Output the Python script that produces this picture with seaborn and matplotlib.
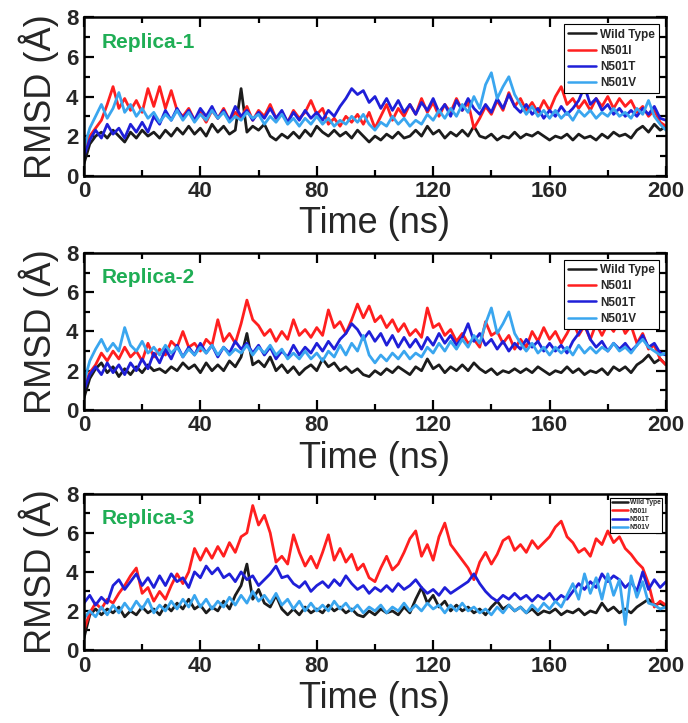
import numpy as np
import pandas as pd
import matplotlib
matplotlib.use('Agg')
import matplotlib.pyplot as plt
import seaborn as sns
from matplotlib.ticker import MultipleLocator

# time axis (ns), sampled every 2 ns
time_ns = list(range(0, 201, 2))
systems = ['Wild Type', 'N501I', 'N501T', 'N501V']
colors = {'Wild Type': '#1c1c1c', 'N501I': '#ff1f1f', 'N501T': '#1f1fd8', 'N501V': '#3aa6ef'}

# Replica-1
r1_wt = [0.6, 1.6, 2.0, 2.2, 1.9, 2.3, 2.0, 1.7, 2.2, 1.9, 2.3, 2.0, 2.2, 1.9, 2.3, 2.0, 2.4, 2.1, 2.5, 2.1,
         2.4, 2.0, 2.6, 2.2, 2.5, 2.1, 2.3, 4.4, 2.2, 2.5, 2.3, 2.6, 2.0, 1.8, 2.1, 1.9, 2.2, 1.9, 2.3, 2.0,
         2.5, 2.2, 2.0, 2.3, 2.0, 2.2, 1.9, 2.3, 2.0, 1.7, 2.0, 1.8, 2.1, 1.9, 2.2, 1.9, 2.0, 2.3, 2.0, 2.5,
         2.1, 2.3, 1.9, 2.2, 2.0, 2.3, 2.0, 2.5, 2.0, 1.9, 2.1, 1.8, 2.0, 1.9, 2.2, 1.9, 2.1, 2.0, 2.2, 2.0,
         1.8, 2.0, 1.9, 2.1, 1.8, 2.1, 1.9, 2.0, 1.8, 2.1, 1.9, 2.2, 2.0, 2.1, 1.9, 2.3, 2.5, 2.2, 2.6, 2.3,
         2.5]
r1_n501i = [1.2, 2.0, 2.4, 2.8, 3.6, 4.5, 3.4, 3.9, 3.3, 3.8, 3.2, 4.4, 3.5, 4.5, 3.4, 4.3, 3.3, 3.0, 3.4, 2.8,
            3.2, 2.7, 3.3, 2.9, 3.4, 2.8, 3.2, 2.9, 3.5, 2.8, 3.3, 3.0, 3.6, 2.9, 3.2, 2.7, 3.3, 2.9, 3.2, 3.8,
            3.1, 3.4, 2.6, 2.9, 2.5, 3.0, 2.7, 3.1, 2.6, 3.2, 2.4, 3.0, 3.6, 2.8, 3.4, 3.0, 3.6, 3.1, 3.9, 3.2,
            3.7, 3.0, 3.6, 3.2, 3.9, 3.3, 3.7, 2.4, 2.9, 3.5, 3.1, 3.8, 3.3, 4.2, 3.5, 3.9, 3.3, 3.7, 3.2, 3.8,
            3.3, 4.0, 4.5, 3.6, 3.9, 3.4, 3.8, 3.3, 3.9, 3.5, 4.0, 3.4, 3.9, 3.5, 3.8, 3.2, 3.5, 3.0, 3.3, 2.7,
            2.5]
r1_n501t = [1.0, 1.8, 2.3, 1.9, 2.6, 2.1, 2.4, 1.9, 2.6, 2.2, 2.7, 2.2, 3.0, 2.6, 3.3, 2.8, 3.4, 2.9, 3.3, 2.8,
            3.4, 3.0, 3.5, 2.9, 3.3, 2.8, 3.5, 3.0, 3.3, 2.8, 3.2, 2.9, 3.4, 2.9, 3.3, 2.7, 3.2, 2.8, 3.3, 2.9,
            3.2, 2.8, 3.3, 3.0, 3.5, 3.9, 4.4, 4.1, 4.3, 3.7, 4.0, 3.4, 3.9, 3.3, 3.8, 3.2, 3.6, 3.1, 3.7, 3.3,
            3.9, 3.2, 3.6, 3.0, 3.8, 3.3, 3.9, 3.4, 3.1, 3.6, 3.2, 3.9, 3.4, 4.1, 3.5, 3.2, 3.6, 3.1, 3.4, 2.9,
            3.3, 3.0, 3.5, 3.1, 3.4, 3.8, 4.5, 3.6, 3.9, 3.3, 3.6, 3.1, 3.4, 3.0, 3.3, 3.0, 3.4, 3.1, 3.5, 2.9,
            2.8]
r1_n501v = [1.4, 2.4, 3.0, 3.6, 2.9, 3.4, 4.2, 3.2, 3.6, 3.0, 3.4, 2.9, 3.2, 2.7, 3.1, 2.8, 3.3, 2.8, 3.2, 2.7,
            3.1, 2.8, 3.3, 2.9, 3.2, 2.7, 3.0, 2.8, 3.2, 2.9, 3.1, 2.6, 3.0, 2.7, 3.1, 2.6, 2.9, 2.5, 2.9, 2.6,
            3.0, 2.6, 2.9, 2.5, 2.8, 2.6, 3.0, 2.7, 3.1, 2.6, 2.3, 2.7, 2.5, 3.0, 2.6, 2.9, 2.5, 2.8, 2.6, 3.1,
            2.8, 3.3, 2.9, 3.4, 3.0, 3.6, 3.2, 4.0, 3.4, 4.6, 5.2, 3.9, 4.5, 5.0, 4.1, 3.6, 3.1, 3.5, 3.0, 3.3,
            2.9, 3.3, 2.9, 3.2, 2.8, 3.3, 3.0, 3.3, 2.9, 3.2, 3.0, 3.4, 3.0, 3.2, 2.9, 3.4, 3.1, 3.8, 3.0, 2.6,
            2.3]

# Replica-2
r2_wt = [0.6, 1.6, 2.1, 2.4, 1.9, 2.2, 1.7, 2.1, 1.8, 2.2, 1.9, 2.3, 2.0, 2.1, 1.9, 2.2, 2.0, 2.4, 2.1, 2.3,
         1.9, 2.4, 2.0, 2.3, 2.0, 2.5, 2.2, 2.7, 3.9, 2.3, 2.5, 2.2, 2.7, 2.0, 2.3, 1.9, 2.2, 1.8, 2.1, 2.3,
         2.0, 2.6, 2.2, 2.4, 2.0, 2.2, 1.9, 2.1, 1.8, 1.7, 2.0, 1.8, 2.1, 1.9, 2.2, 2.0, 1.8, 2.2, 2.0, 2.6,
         2.1, 2.3, 1.9, 2.2, 2.0, 2.3, 2.0, 2.4, 2.1, 1.9, 2.1, 1.8, 2.0, 1.9, 2.1, 1.9, 2.1, 1.9, 2.2, 2.0,
         1.8, 2.0, 1.9, 2.2, 1.9, 2.1, 1.8, 2.0, 1.9, 2.1, 1.8, 2.2, 2.0, 2.2, 1.9, 2.3, 2.5, 2.8, 2.4, 2.6,
         2.3]
r2_n501i = [1.2, 1.9, 2.3, 2.9, 2.5, 3.0, 2.6, 3.2, 2.7, 3.0, 2.5, 3.4, 2.7, 3.1, 2.8, 3.5, 3.2, 4.0, 3.2, 3.4,
            3.0, 3.6, 3.3, 4.6, 3.5, 3.9, 3.4, 4.4, 5.6, 4.6, 4.3, 3.8, 4.1, 3.5, 4.0, 3.6, 4.6, 3.8, 4.1, 3.7,
            4.2, 3.8, 5.1, 4.2, 4.5, 3.9, 4.6, 5.4, 4.7, 5.3, 4.5, 4.8, 4.2, 4.6, 4.0, 4.4, 3.8, 4.1, 3.7, 5.2,
            4.2, 4.4, 3.8, 4.1, 3.5, 3.9, 3.4, 3.6, 3.2, 4.5, 3.8, 4.0, 3.4, 3.8, 3.1, 3.6, 3.2, 4.0, 3.5, 4.2,
            3.6, 4.0, 3.4, 3.9, 4.5, 3.8, 4.3, 3.6, 4.4, 3.8, 4.4, 4.0, 4.6, 3.9, 4.3, 3.4, 3.9, 3.1, 3.3, 2.6,
            2.3]
r2_n501t = [1.0, 1.8, 2.2, 1.8, 2.4, 1.9, 2.3, 1.8, 2.4, 2.0, 2.6, 2.1, 2.9, 2.4, 3.1, 2.6, 3.3, 2.7, 3.2, 2.8,
            3.4, 2.9, 3.3, 2.7, 3.2, 2.9, 3.5, 3.1, 3.4, 2.9, 3.3, 2.8, 3.2, 2.6, 3.0, 2.7, 3.3, 2.8, 3.2, 2.9,
            3.4, 3.0, 3.5, 3.1, 3.6, 3.9, 4.4, 4.1, 3.6, 4.0, 3.5, 3.9, 3.3, 3.8, 3.2, 3.7, 3.2, 3.6, 3.1, 3.7,
            3.3, 3.9, 3.4, 3.8, 3.3, 3.7, 4.4, 3.5, 3.9, 3.3, 3.6, 3.1, 3.5, 3.0, 3.4, 3.1, 3.6, 3.2, 3.5, 3.0,
            3.4, 3.0, 3.3, 2.9, 3.5, 3.9, 4.4, 3.6, 3.2, 3.5, 3.0, 3.4, 3.1, 3.4, 3.0, 3.3, 3.8, 3.2, 3.4, 2.9,
            2.8]
r2_n501v = [1.4, 2.5, 3.1, 3.6, 3.0, 3.4, 3.0, 4.2, 3.3, 3.0, 3.5, 2.9, 3.2, 2.8, 3.3, 2.9, 3.2, 2.7, 3.1, 2.8,
            3.2, 2.9, 3.3, 2.8, 3.2, 2.8, 3.1, 2.9, 3.3, 2.8, 3.2, 2.9, 3.3, 2.8, 3.1, 2.6, 2.9, 2.6, 3.0, 2.6,
            2.9, 2.5, 3.0, 2.7, 3.3, 2.8, 3.4, 3.0, 3.8, 2.8, 2.4, 2.8, 2.5, 2.9, 2.6, 3.0, 2.6, 2.9, 2.7, 3.2,
            2.9, 3.4, 3.0, 3.5, 3.1, 3.6, 3.2, 3.8, 3.4, 4.4, 5.2, 3.9, 4.4, 5.0, 3.9, 3.4, 3.0, 3.4, 2.9, 3.2,
            2.8, 3.2, 2.9, 3.2, 2.8, 3.3, 2.9, 3.2, 2.9, 3.2, 3.0, 3.4, 3.0, 3.2, 2.9, 3.3, 3.6, 3.2, 3.0, 2.8,
            2.9]

# Replica-3
r3_wt = [0.6, 1.8, 2.1, 1.8, 2.1, 1.9, 2.2, 1.7, 2.0, 1.8, 2.2, 1.9, 2.1, 1.8, 2.3, 2.0, 2.4, 2.1, 2.6, 2.1,
         2.3, 1.9, 2.2, 2.0, 2.5, 2.1, 2.8, 3.3, 4.4, 2.6, 3.1, 2.4, 2.2, 2.8, 2.1, 1.8, 2.1, 1.8, 2.2, 1.9,
         2.1, 1.9, 2.3, 2.0, 2.2, 1.9, 2.1, 1.8, 1.7, 2.0, 1.8, 2.1, 1.9, 2.0, 1.8, 2.2, 1.9, 2.6, 3.2, 2.4,
         2.8, 2.2, 2.5, 2.0, 2.3, 2.0, 2.2, 1.9, 2.1, 1.8, 2.2, 2.5, 2.1, 2.3, 2.0, 2.2, 1.9, 2.1, 1.8, 2.0,
         1.9, 2.1, 1.8, 2.0, 1.9, 2.1, 1.8, 2.0, 1.9, 2.4, 2.0, 2.2, 1.9, 2.1, 1.9, 2.2, 2.4, 2.6, 2.3, 2.4,
         2.2]
r3_n501i = [1.0, 1.9, 2.4, 2.1, 2.6, 2.4, 2.9, 3.3, 3.8, 4.2, 2.9, 3.2, 2.5, 3.0, 2.6, 3.3, 3.9, 3.4, 4.0, 5.2,
            4.6, 5.2, 4.7, 5.3, 4.8, 5.5, 5.0, 5.8, 6.0, 7.4, 6.4, 6.9, 6.0, 4.5, 4.8, 4.4, 5.9, 5.0, 4.3, 4.8,
            4.2, 5.0, 5.9, 4.6, 5.2, 4.5, 4.9, 4.1, 4.4, 3.7, 3.5, 4.2, 4.8, 4.1, 4.4, 5.0, 5.7, 6.1, 4.8, 5.4,
            4.6, 5.8, 6.5, 5.4, 5.0, 4.6, 4.2, 3.6, 4.5, 5.0, 4.4, 4.9, 5.6, 5.8, 5.1, 5.4, 5.0, 5.6, 5.2, 5.5,
            5.8, 6.3, 6.6, 5.8, 5.5, 5.0, 5.2, 4.8, 5.7, 5.4, 6.1, 5.5, 5.8, 5.2, 4.9, 4.5, 4.2, 3.4, 2.2, 2.5,
            2.3]
r3_n501t = [2.4, 2.8, 2.3, 2.7, 2.4, 3.3, 3.6, 3.1, 3.5, 3.9, 3.3, 3.7, 3.2, 3.8, 3.3, 3.9, 3.5, 3.7, 3.2, 4.0,
            3.7, 4.3, 3.9, 4.2, 3.7, 3.9, 3.5, 4.0, 3.6, 3.8, 3.3, 3.6, 3.9, 4.3, 3.7, 3.8, 3.4, 3.2, 3.5, 3.0,
            3.3, 3.5, 3.2, 3.6, 3.3, 3.8, 3.4, 3.1, 3.3, 2.9, 3.2, 3.0, 3.3, 3.0, 3.4, 3.1, 3.3, 3.6, 3.2, 2.9,
            3.1, 2.8, 3.2, 2.9, 3.1, 3.3, 3.5, 3.9, 3.4, 3.0, 2.7, 2.5, 2.8, 2.6, 2.9, 2.6, 2.8, 2.5, 2.8, 2.6,
            2.9, 2.5, 2.8, 2.6, 3.0, 3.4, 3.1, 3.5, 3.2, 3.9, 3.5, 3.8, 3.6, 3.2, 3.5, 3.0, 4.0, 3.1, 3.6, 3.2,
            3.5]
r3_n501v = [1.6, 2.0, 1.7, 2.2, 1.8, 2.3, 1.9, 2.4, 2.0, 2.5, 2.1, 2.6, 1.9, 2.3, 2.0, 2.5, 2.1, 2.6, 2.2, 2.8,
            2.2, 2.6, 2.1, 2.5, 2.2, 2.7, 2.3, 2.8, 2.4, 3.0, 2.5, 2.8, 2.4, 2.9, 2.3, 2.6, 2.1, 2.5, 2.0, 2.4,
            2.0, 2.3, 2.0, 2.5, 2.1, 2.4, 2.0, 2.3, 1.9, 2.2, 2.0, 2.3, 1.9, 2.2, 2.0, 2.4, 2.0, 2.3, 2.0, 2.4,
            2.1, 2.3, 1.9, 2.3, 2.0, 2.4, 2.0, 2.2, 1.9, 2.1, 1.8, 2.2, 1.9, 2.3, 2.0, 2.2, 1.9, 2.3, 2.0, 2.4,
            2.1, 2.5, 2.2, 2.8, 3.4, 2.6, 3.9, 2.9, 3.7, 2.6, 3.9, 2.8, 3.6, 1.3, 3.8, 2.7, 3.5, 2.4, 2.3, 2.1,
            2.2]

replicas = [
    ('Replica-1', [r1_wt, r1_n501i, r1_n501t, r1_n501v]),
    ('Replica-2', [r2_wt, r2_n501i, r2_n501t, r2_n501v]),
    ('Replica-3', [r3_wt, r3_n501i, r3_n501t, r3_n501v]),
]

sns.set_theme(style="ticks")
plt.rcParams['font.family'] = ['Liberation Sans', 'DejaVu Sans']

fig = plt.figure(figsize=(6.88, 7.23), dpi=100)
# axes boxes: left, bottom, width, height (figure fractions)
boxes = [(0.122, 0.757, 0.846, 0.219), (0.122, 0.433, 0.846, 0.217), (0.122, 0.101, 0.846, 0.216)]

for k, ((name, series), box) in enumerate(zip(replicas, boxes)):
    ax = fig.add_axes(box)
    frames = []
    for sysname, vals in zip(systems, series):
        frames.append(pd.DataFrame({'Time': time_ns, 'RMSD': vals, 'System': sysname}))
    df = pd.concat(frames, ignore_index=True)
    sns.lineplot(data=df, x='Time', y='RMSD', hue='System', hue_order=systems,
                 palette=colors, estimator=None, linewidth=2.0, ax=ax)

    ax.set_xlim(0, 200)
    ax.set_ylim(0, 8)
    ax.xaxis.set_major_locator(MultipleLocator(40))
    ax.xaxis.set_minor_locator(MultipleLocator(20))
    ax.yaxis.set_major_locator(MultipleLocator(2))
    ax.yaxis.set_minor_locator(MultipleLocator(1))
    ax.tick_params(which='both', direction='in', top=True, right=True, width=1.6, color='black')
    ax.tick_params(which='major', length=7, labelsize=16, pad=4)
    ax.tick_params(which='minor', length=4)
    for lab in ax.get_xticklabels() + ax.get_yticklabels():
        lab.set_fontweight('bold')
    for sp in ax.spines.values():
        sp.set_linewidth(1.8)
        sp.set_color('black')

    ax.set_xlabel('Time (ns)', fontsize=26, labelpad=3)
    ax.set_ylabel('RMSD (Å)', fontsize=26, labelpad=5)
    ax.text(6.2, 6.75, name, color='#1fae55', fontsize=15, fontweight='bold', va='center', ha='left')

    if k < 2:
        leg = ax.legend(loc='upper right', handlelength=2.4, labelspacing=0.35,
                        borderpad=0.35, handletextpad=0.3, borderaxespad=0.6, fancybox=False,
                        framealpha=1, edgecolor='black', prop={'weight': 'bold', 'size': 8.5})
    else:
        leg = ax.legend(loc='upper right', handlelength=2.4, labelspacing=0.2,
                        borderpad=0.25, handletextpad=0.3, borderaxespad=0.6, fancybox=False,
                        framealpha=1, edgecolor='black', prop={'weight': 'bold', 'size': 4.8})
    leg.get_frame().set_linewidth(0.8)
    for ln in leg.get_lines():
        ln.set_linewidth(1.8)

fig.savefig('out.png', dpi=100)
